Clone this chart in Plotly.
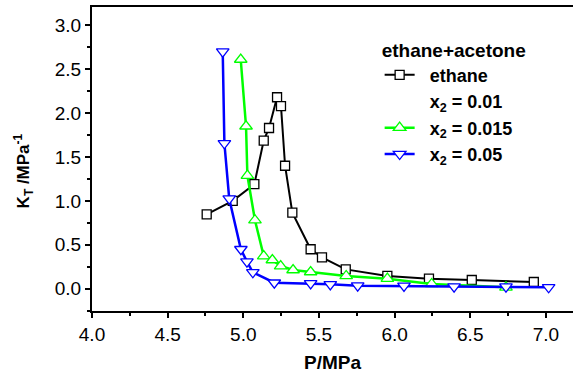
import plotly.graph_objects as go

# Data
p_ethane = [4.758, 4.93, 5.073, 5.135, 5.17, 5.223, 5.249, 5.276, 5.324, 5.445, 5.52, 5.677, 5.952, 6.227, 6.51, 6.92]
k_ethane = [0.847, 1.00, 1.19, 1.686, 1.83, 2.18, 2.08, 1.40, 0.866, 0.449, 0.357, 0.22, 0.145, 0.114, 0.099, 0.076]

p_x015 = [4.983, 5.018, 5.027, 5.077, 5.135, 5.192, 5.247, 5.329, 5.445, 5.68, 5.952, 6.245, 6.736]
k_x015 = [2.61, 1.85, 1.287, 0.78, 0.372, 0.327, 0.258, 0.213, 0.19, 0.145, 0.114, 0.054, 0.016]

p_x05 = [4.864, 4.875, 4.907, 4.984, 5.024, 5.063, 5.205, 5.445, 5.575, 5.756, 6.062, 6.393, 6.736, 7.018]
k_x05 = [2.70, 1.656, 1.025, 0.449, 0.308, 0.187, 0.068, 0.061, 0.05, 0.034, 0.031, 0.023, 0.023, 0.016]

legend_title = "ethane+acetone"
names = ["ethane", "x<sub>2</sub> = 0.01", "x<sub>2</sub> = 0.015", "x<sub>2</sub> = 0.05"]

FONT = "Arial, Liberation Sans, sans-serif"
FS = 19

fig = go.Figure()
fig.add_trace(go.Scatter(
    x=p_ethane, y=k_ethane, mode="lines+markers", name=names[0],
    line=dict(color="black", width=2),
    marker=dict(symbol="square", size=9, color="white", line=dict(color="black", width=1.3)),
))
# legend-only entry (no symbol in reference legend)
fig.add_trace(go.Scatter(
    x=[None], y=[None], mode="lines", name=names[1],
    line=dict(color="rgba(0,0,0,0)", width=0),
))
fig.add_trace(go.Scatter(
    x=p_x015, y=k_x015, mode="lines+markers", name=names[2],
    line=dict(color="#00ff00", width=2.5),
    marker=dict(symbol="triangle-up", size=11, color="white", line=dict(color="#00ff00", width=1.3)),
))
fig.add_trace(go.Scatter(
    x=p_x05, y=k_x05, mode="lines+markers", name=names[3],
    line=dict(color="#0000ff", width=2.5),
    marker=dict(symbol="triangle-down", size=11, color="white", line=dict(color="#0000ff", width=1.3)),
))

for tr in fig.data:
    tr.name = "<b>&nbsp;&nbsp;" + tr.name + "</b>"

fig.update_layout(
    width=573, height=376,
    margin=dict(l=92, r=0, t=7, b=65),
    paper_bgcolor="white", plot_bgcolor="white",
    font=dict(family=FONT, size=FS, color="black"),
    showlegend=True,
    legend=dict(
        title=dict(text="<b>" + legend_title + "</b>", font=dict(size=FS)),
        x=0.598, y=0.918, xanchor="left", yanchor="top",
        bgcolor="rgba(0,0,0,0)",
        font=dict(size=18, family=FONT),
        tracegroupgap=0,
        itemsizing="trace",
    ),
    xaxis=dict(
        range=[4.0, 7.179], dtick=0.5, tick0=4.0, tickformat=".1f",
        showgrid=False, zeroline=False, automargin=False,
        showline=True, linecolor="black", linewidth=2, mirror=True,
        ticks="outside", ticklen=5, tickwidth=2, tickcolor="black",
        minor=dict(dtick=0.25, ticks="outside", ticklen=3, tickwidth=2, tickcolor="black"),
        tickfont=dict(size=FS),
        title=dict(text="<b>P/MPa</b>", font=dict(size=FS), standoff=12),
    ),
    yaxis=dict(
        range=[-0.254, 3.208], dtick=0.5, tick0=0, tickformat=".1f",
        showgrid=False, zeroline=False, automargin=False,
        showline=True, linecolor="black", linewidth=2, mirror=False,
        ticks="outside", ticklen=5, tickwidth=2, tickcolor="black",
        minor=dict(dtick=0.25, ticks="outside", ticklen=3, tickwidth=2, tickcolor="black"),
        tickfont=dict(size=FS),
    ),
    annotations=[dict(
        text="<b>K<sub>T</sub> /MPa<sup>-1</sup></b>",
        xref="paper", yref="paper", x=-0.143, y=0.46,
        textangle=-90, showarrow=False, font=dict(size=17),
        xanchor="center", yanchor="middle",
    )],
)

fig.write_html("out.html", config={"displayModeBar": False},
               post_script="document.body.style.margin='0';document.body.style.overflow='hidden';")
